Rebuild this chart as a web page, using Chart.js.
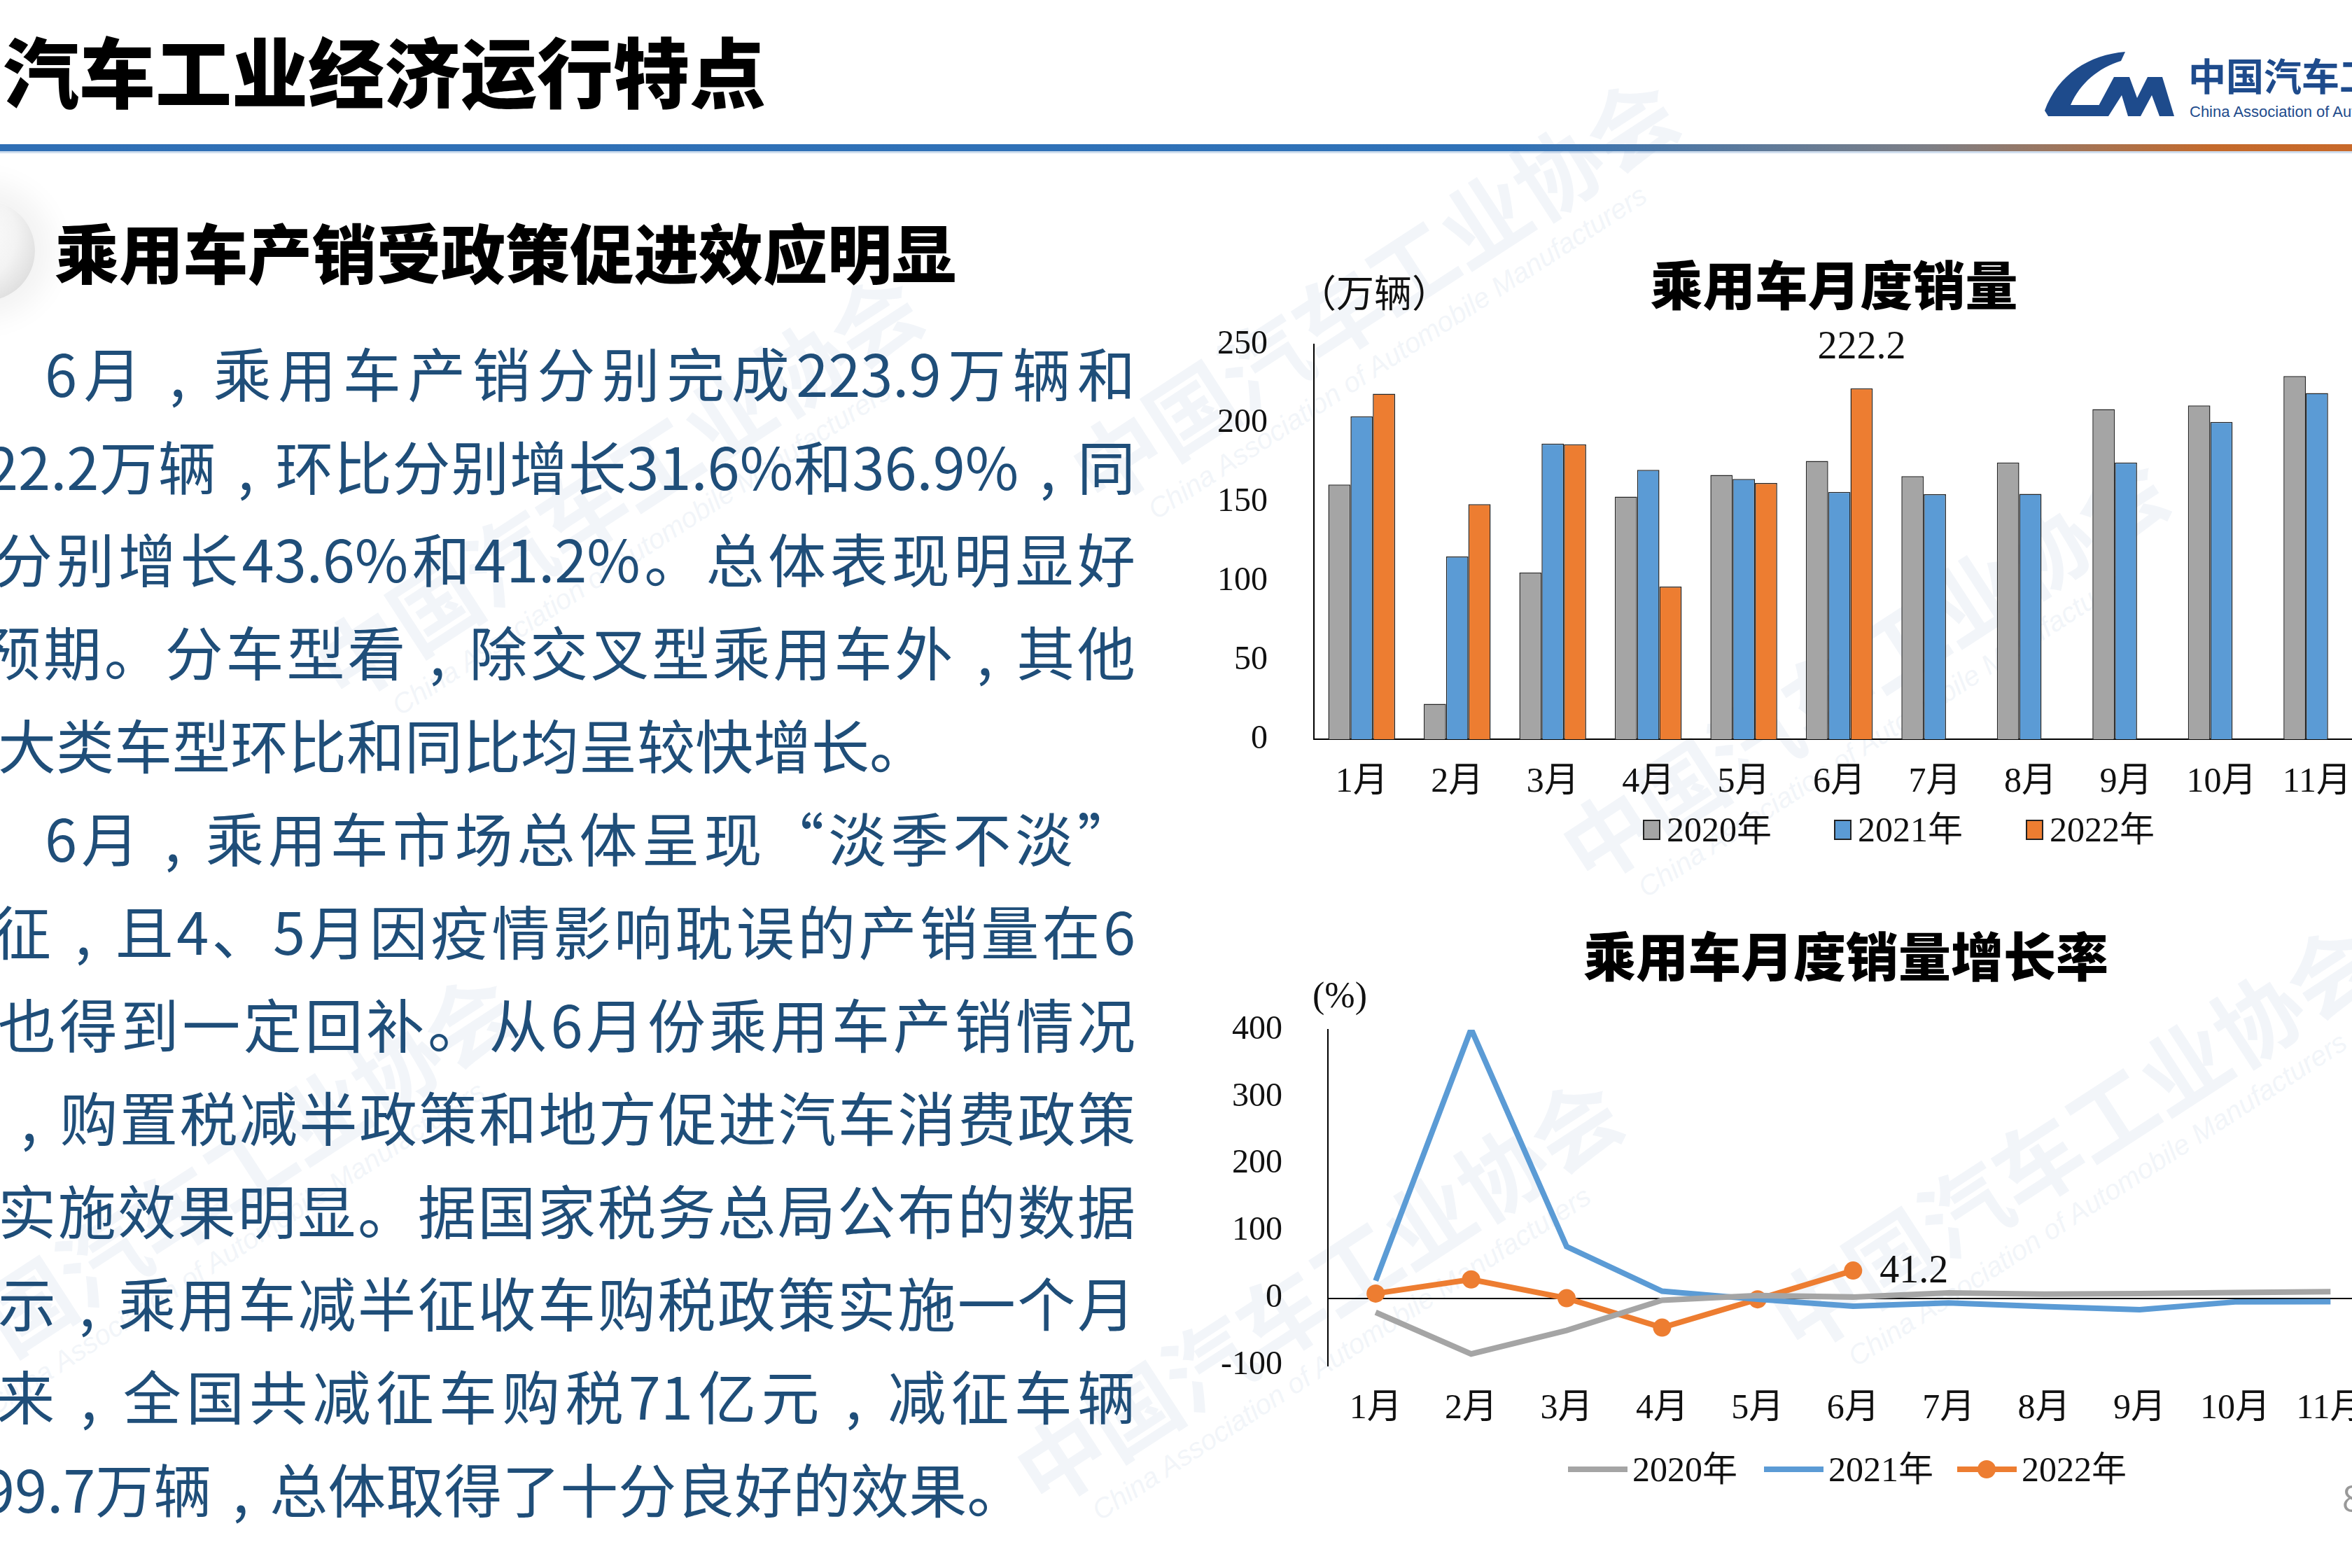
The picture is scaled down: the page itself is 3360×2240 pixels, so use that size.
<!DOCTYPE html>
<html>
<head>
<meta charset="utf-8">
<script src="https://cdn.jsdelivr.net/npm/chart.js@4.4.1/dist/chart.umd.min.js"></script>
<style>
  html, body { margin: 0; padding: 0; background: #fff; }
  #slide { position: relative; width: 3360px; height: 2240px; overflow: hidden; background: #fff;
           font-family: "Noto Sans CJK SC", sans-serif; }
  .abs { position: absolute; white-space: nowrap; line-height: 1; }
  .wm { position: absolute; transform-origin: left top; transform: rotate(-33deg); white-space: nowrap;
        font-size: 125px; font-weight: 700; color: rgba(214, 223, 236, 0.32); line-height: 1.2; }
  .wm i { display: block; font: italic 40px "Liberation Sans", sans-serif; padding-left: 60px; }
  .ln { position: absolute; font-size: 83px; line-height: 133px; height: 133px; color: #1f4e79;
        text-align: justify; text-align-last: justify; }
  .ln.last { text-align: left; text-align-last: left; }
  .ln .c { padding: 0 30px; }
  .serif { font-family: "Liberation Serif", "Noto Sans CJK SC", serif; color: #111; }
  .lg-box { position: absolute; width: 21px; height: 25px; border: 2px solid #222; }
  .lg-line { position: absolute; height: 8px; }
  canvas { position: absolute; }
</style>
</head>
<body>
<div id="slide">
  <!-- faint watermark -->
  <div class="wm" style="left:420px;top:900px;">中国汽车工业协会<i>China Association of Automobile Manufacturers</i></div>
  <div class="wm" style="left:-160px;top:1900px;">中国汽车工业协会<i>China Association of Automobile Manufacturers</i></div>
  <div class="wm" style="left:1420px;top:2050px;">中国汽车工业协会<i>China Association of Automobile Manufacturers</i></div>
  <div class="wm" style="left:2200px;top:1160px;">中国汽车工业协会<i>China Association of Automobile Manufacturers</i></div>
  <div class="wm" style="left:2500px;top:1830px;">中国汽车工业协会<i>China Association of Automobile Manufacturers</i></div>
  <div class="wm" style="left:1500px;top:620px;">中国汽车工业协会<i>China Association of Automobile Manufacturers</i></div>

  <!-- header -->
  <div class="abs" style="left:4px;top:44px;font-size:109px;font-weight:900;color:#000;">汽车工业经济运行特点</div>
  <div class="abs" style="left:0;top:206px;width:3360px;height:10px;
       background:linear-gradient(to right,#2f6fb5 0%,#2f72b8 64%,#7d7f86 82%,#c46a2c 94%,#c8692a 100%);"></div>
  <div class="abs" style="left:0;top:216px;width:3360px;height:3px;background:rgba(120,160,205,0.35);"></div>

  <svg class="abs" style="left:0;top:0;" width="3360" height="200">
    <path d="M3036 74 C2985 78 2940 106 2921 158 L2926 166 L2993 166 L2999 150 L2958 150 C2972 118 2998 97 3030 87 Z" fill="#1e4b8c"/>
    <path d="M2990 166 L3020 110 L3042 110 L3053 140 L3068 110 L3089 110 L3106 166 L3085 166 L3074 136 L3058 166 L3040 166 L3031 136 L3012 166 Z" fill="#1e4b8c"/>
  </svg>
  <div class="abs" style="left:3126px;top:80px;font-size:54px;font-weight:700;color:#1e4b8c;">中国汽车工业协会</div>
  <div class="abs" style="left:3128px;top:147px;font:22px 'Liberation Sans',sans-serif;color:#1e4b8c;">China Association of Automobile Manufacturers</div>

  <!-- section heading -->
  <div class="abs" style="left:-94px;top:286px;width:144px;height:144px;border-radius:50%;
       background:radial-gradient(circle at 35% 35%,#ffffff 0%,#f3f3f3 50%,#cfcfcf 100%);
       box-shadow:0 0 40px 25px rgba(0,0,0,0.05);"></div>
  <div class="abs" style="left:78px;top:312px;font-size:92px;font-weight:900;color:#000;">乘用车产销受政策促进效应明显</div>

  <!-- body text -->
  <div class="ln" style="left:64px;top:465px;width:1558px;">6月<span class="c">,</span>乘用车产销分别完成223.9万辆和</div>
  <div class="ln" style="left:-20px;top:598px;width:1642px;">22.2万辆<span class="c">,</span>环比分别增长31.6%和36.9%<span class="c">,</span>同</div>
  <div class="ln" style="left:-8px;top:730px;width:1630px;">分别增长43.6%和41.2%。总体表现明显好</div>
  <div class="ln" style="left:-25px;top:863px;width:1647px;">预期。分车型看<span class="c">,</span>除交叉型乘用车外<span class="c">,</span>其他</div>
  <div class="ln last" style="left:-3px;top:996px;width:1625px;">大类车型环比和同比均呈较快增长。</div>
  <div class="ln" style="left:64px;top:1129px;width:1558px;">6月<span class="c">,</span>乘用车市场总体呈现“淡季不淡”</div>
  <div class="ln" style="left:-10px;top:1262px;width:1632px;">征<span class="c">,</span>且4、5月因疫情影响耽误的产销量在6</div>
  <div class="ln" style="left:-3px;top:1395px;width:1625px;">也得到一定回补。从6月份乘用车产销情况</div>
  <div class="ln" style="left:0px;top:1528px;width:1622px;"><span class="c">,</span>购置税减半政策和地方促进汽车消费政策</div>
  <div class="ln" style="left:-3px;top:1661px;width:1625px;">实施效果明显。据国家税务总局公布的数据</div>
  <div class="ln" style="left:-3px;top:1793px;width:1625px;">示<span class="c">,</span>乘用车减半征收车购税政策实施一个月</div>
  <div class="ln" style="left:-5px;top:1926px;width:1627px;">来<span class="c">,</span>全国共减征车购税71亿元<span class="c">,</span>减征车辆</div>
  <div class="ln last" style="left:-25px;top:2059px;width:1647px;">99.7万辆<span class="c">,</span>总体取得了十分良好的效果。</div>

  <!-- chart 1 -->
  <div class="abs" style="left:2220px;top:366px;width:800px;text-align:center;font-size:75px;font-weight:900;color:#000;">乘用车月度销量</div>
  <div class="abs serif" style="left:1855px;top:394px;font-size:54px;">（万辆）</div>
  <canvas id="barChart" width="1691" height="720" style="left:1700px;top:430px;width:1691px;height:720px;"></canvas>
  <div id="barLegend"></div>

  <!-- chart 2 -->
  <div class="abs" style="left:2237px;top:1325px;width:800px;text-align:center;font-size:75px;font-weight:900;color:#000;">乘用车月度销量增长率</div>
  <div class="abs serif" style="left:1875px;top:1396px;font-size:52px;">(%)</div>
  <canvas id="lineChart" width="1711" height="630" style="left:1700px;top:1420px;width:1711px;height:630px;"></canvas>
  <div id="lineLegend"></div>

  <div class="abs" style="left:3346px;top:2112px;font-size:50px;color:#999;">8</div>
</div>

<script>
// monthly passenger car sales, 10k units
const months = ['1月', '2月', '3月', '4月', '5月', '6月', '7月', '8月', '9月', '10月', '11月'];
const seriesNames = ['2020年', '2021年', '2022年'];
const sales2020 = [161.2, 22.4, 105.5, 153.6, 167.3, 176.2, 166.6, 175.2, 209.0, 211.3, 229.9];
const sales2021 = [204.5, 115.7, 187.2, 170.6, 164.8, 156.6, 155.1, 155.4, 175.2, 200.9, 219.2];
const sales2022 = [218.7, 148.8, 186.7, 96.6, 162.2, 222.2];
const salesTicks = [0, 50, 100, 150, 200, 250];

// year-on-year growth, %
const growth2020 = [-21, -83, -48, -3, 4, 1.8, 8.0, 6.0, 6.8, 8.5, 9.7];
const growth2021 = [26, 401, 77, 10.5, -1.6, -12, -7, -12.5, -17, -5.5, -5];
const growth2022 = [7, 28, 0, -43.8, -1.6, 41.2];
const growthTicks = [-100, 0, 100, 200, 300, 400];

const COLORS = ['#a5a5a5', '#5b9bd5', '#ed7d31'];
const SERIF = '"Liberation Serif", "Noto Sans CJK SC", serif';
const INK = '#111';

Chart.defaults.font.family = SERIF;
Chart.defaults.color = INK;

// draws the highlighted value next to one point
const pointLabel = {
  id: 'pointLabel',
  afterDatasetsDraw(chart, args, o) {
    const el = chart.getDatasetMeta(o.dataset).data[o.index];
    const v = chart.data.datasets[o.dataset].data[o.index];
    if (!el) return;
    const ctx = chart.ctx;
    ctx.save();
    ctx.font = `56px ${SERIF}`;
    ctx.fillStyle = INK;
    ctx.textAlign = o.align;
    ctx.textBaseline = 'middle';
    ctx.fillText(v.toFixed(1), el.x + o.dx, el.y + o.dy);
    ctx.restore();
  }
};

// fixed axis widths, no extra padding from tick labels
const fixY = w => s => { s.width = w; s.paddingTop = 0; s.paddingBottom = 0; };

const sales = [sales2020, sales2021, sales2022];
new Chart(document.getElementById('barChart'), {
  type: 'bar',
  data: {
    labels: months,
    datasets: sales.map((d, i) => ({
      label: seriesNames[i], data: d, backgroundColor: COLORS[i],
      borderColor: '#262626', borderWidth: 1.5, barPercentage: 1, categoryPercentage: 0.7
    }))
  },
  plugins: [pointLabel],
  options: {
    responsive: false, devicePixelRatio: 1, animation: false,
    layout: { padding: { top: 62, left: 0, right: 0, bottom: 0 } },
    plugins: { legend: { display: false }, tooltip: { enabled: false },
      pointLabel: { dataset: 2, index: 5, dx: 0, dy: -57, align: 'center' } },
    scales: {
      x: { grid: { display: false, drawTicks: false }, border: { color: '#000', width: 2 },
        ticks: { font: { size: 50 }, color: INK, padding: 32, maxRotation: 0, autoSkip: false },
        afterFit: s => { s.height = 94; } },
      y: { min: 0, max: 250, afterBuildTicks: s => { s.ticks = salesTicks.map(v => ({ value: v })); },
        grid: { display: false, drawTicks: false }, border: { color: '#000', width: 2 },
        ticks: { font: { size: 48 }, color: INK, padding: 66 },
        afterFit: fixY(177) }
    }
  }
});

const growth = [growth2020, growth2021, growth2022];
new Chart(document.getElementById('lineChart'), {
  type: 'line',
  data: {
    labels: months,
    datasets: growth.map((d, i) => ({
      label: seriesNames[i], data: d, borderColor: COLORS[i], backgroundColor: COLORS[i],
      borderWidth: 8, tension: 0, fill: false,
      pointRadius: i === 2 ? 13 : 0, pointBorderWidth: 0, pointBackgroundColor: COLORS[i]
    }))
  },
  plugins: [pointLabel],
  options: {
    responsive: false, devicePixelRatio: 1, animation: false,
    layout: { padding: { top: 51, left: 0, right: 0, bottom: 0 } },
    plugins: { legend: { display: false }, tooltip: { enabled: false },
      pointLabel: { dataset: 2, index: 5, dx: 38, dy: 2, align: 'left' } },
    scales: {
      x: { offset: true, grid: { display: false, drawTicks: false }, border: { display: false },
        ticks: { font: { size: 50 }, color: INK, padding: 32, maxRotation: 0, autoSkip: false },
        afterFit: s => { s.height = 99.5; } },
      y: { min: -100, max: 400, afterBuildTicks: s => { s.ticks = growthTicks.map(v => ({ value: v })); },
        grid: { drawTicks: false, lineWidth: 2, color: c => (c.tick && c.tick.value === 0 ? '#000' : 'rgba(0,0,0,0)') },
        border: { color: '#000', width: 2 },
        ticks: { font: { size: 48 }, color: INK, padding: 65 },
        afterFit: fixY(197) }
    }
  }
});

// html legends
const barLeg = document.getElementById('barLegend');
[2347, 2620, 2894].forEach((x, i) => {
  barLeg.insertAdjacentHTML('beforeend',
    `<div class="lg-box" style="left:${x}px;top:1171px;background:${COLORS[i]};"></div>` +
    `<div class="abs serif" style="left:${x + 34}px;top:1160px;font-size:50px;">${seriesNames[i]}</div>`);
});
const lineLeg = document.getElementById('lineLegend');
[2240, 2520, 2796].forEach((x, i) => {
  let html = `<div class="lg-line" style="left:${x}px;top:2095px;width:85px;background:${COLORS[i]};"></div>`;
  if (i === 2) html += `<div class="abs" style="left:${x + 29}px;top:2086px;width:26px;height:26px;border-radius:50%;background:${COLORS[i]};"></div>`;
  html += `<div class="abs serif" style="left:${x + 92}px;top:2074px;font-size:50px;">${seriesNames[i]}</div>`;
  lineLeg.insertAdjacentHTML('beforeend', html);
});
</script>
</body>
</html>
